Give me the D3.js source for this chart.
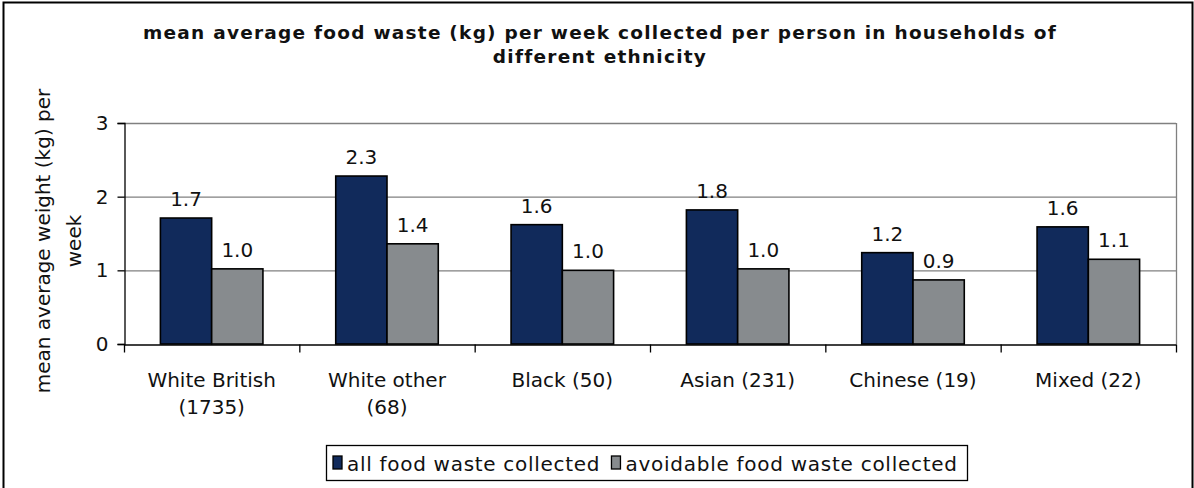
<!DOCTYPE html>
<html>
<head>
<meta charset="utf-8">
<script src="https://cdn.jsdelivr.net/npm/d3@7"></script>
<style>
  html, body { margin: 0; padding: 0; background: #fff; }
  svg { display: block; }
</style>
</head>
<body>
<div id="chart"></div>
<script>
const categories = [
  ['White British', '(1735)'],
  ['White other', '(68)'],
  ['Black (50)'],
  ['Asian (231)'],
  ['Chinese (19)'],
  ['Mixed (22)'],
];
const seriesNames = ['all food waste collected', 'avoidable food waste collected'];
const allWaste = [1.71, 2.28, 1.62, 1.82, 1.24, 1.59];
const avoidableWaste = [1.02, 1.36, 1.00, 1.02, 0.87, 1.15];
const yTicks = [0, 1, 2, 3];
const titleLines = [
  'mean average food waste (kg) per week collected per person in households of',
  'different ethnicity',
];
const yLabelLines = ['mean average weight (kg) per', 'week'];

const W = 1194, H = 488;
const colors = ['#112a5b', '#878b8e'];
const font = 'DejaVu Sans, Verdana, sans-serif';

const svg = d3.select('#chart').append('svg').attr('width', W).attr('height', H);

// outer frame
svg.append('rect').attr('x', 3.5).attr('y', 2.5).attr('width', 1189).attr('height', 500)
  .attr('fill', 'none').attr('stroke', '#000').attr('stroke-width', 2);

const plot = { left: 124, right: 1176, top: 123, bottom: 344 };
const keys = categories.map(c => c.join(' '));

const x = d3.scaleBand().domain(keys).range([plot.left, plot.right]);
const xs = d3.scaleBand().domain(seriesNames).range([0, x.bandwidth()]).paddingOuter(0.71);
const y = d3.scaleLinear().domain([0, 3]).range([plot.bottom, plot.top]);

// gridlines
svg.append('g')
  .selectAll('line').data(yTicks.slice(1)).join('line')
  .attr('x1', plot.left).attr('x2', plot.right)
  .attr('y1', d => y(d) + 0.5).attr('y2', d => y(d) + 0.5)
  .attr('stroke', '#808080').attr('stroke-width', 1.3);
// right border of plot area
svg.append('line').attr('x1', plot.right + 0.5).attr('x2', plot.right + 0.5)
  .attr('y1', plot.top).attr('y2', plot.bottom)
  .attr('stroke', '#808080').attr('stroke-width', 1.3);

// bars
const rows = keys.map((k, i) => ({ key: k, vals: [allWaste[i], avoidableWaste[i]] }));
const groups = svg.append('g').selectAll('g').data(rows).join('g')
  .attr('transform', d => `translate(${x(d.key)},0)`);
groups.selectAll('rect').data(d => d.vals.map((v, j) => ({ v, s: seriesNames[j], j }))).join('rect')
  .attr('x', d => xs(d.s)).attr('width', xs.bandwidth())
  .attr('y', d => y(d.v)).attr('height', d => y(0) - y(d.v))
  .attr('fill', d => colors[d.j]).attr('stroke', '#000').attr('stroke-width', 1.6);
groups.selectAll('text').data(d => d.vals.map((v, j) => ({ v, s: seriesNames[j] }))).join('text')
  .attr('x', d => xs(d.s) + xs.bandwidth() / 2).attr('y', d => y(d.v) - 12)
  .attr('text-anchor', 'middle').attr('font-family', font).attr('font-size', 20).attr('fill', '#111')
  .text(d => d.v.toFixed(1));

// y axis
const yAxis = svg.append('g').attr('transform', `translate(${plot.left + 0.5},0)`)
  .call(d3.axisLeft(y).tickValues(yTicks).tickSize(7).tickPadding(9).tickFormat(d3.format('d')));
yAxis.select('.domain').attr('stroke', '#000').attr('stroke-width', 1.3);
yAxis.selectAll('.tick line').attr('stroke', '#000').attr('stroke-width', 1.3);
yAxis.selectAll('.tick text').attr('font-family', font).attr('font-size', 20).attr('fill', '#111');

// x axis
const xAxis = svg.append('g').attr('transform', `translate(0,${plot.bottom + 0.5})`)
  .call(d3.axisBottom(x).tickSize(0).tickFormat(''));
xAxis.select('.domain').attr('stroke', '#000').attr('stroke-width', 1.3);
xAxis.selectAll('.tick').remove();
const bounds = keys.map(k => x(k)).concat([plot.right]);
xAxis.selectAll('line.cat').data(bounds).join('line').attr('class', 'cat')
  .attr('x1', d => d + 0.5).attr('x2', d => d + 0.5).attr('y1', 0).attr('y2', 8)
  .attr('stroke', '#000').attr('stroke-width', 1.3);
const catLabels = svg.append('g').selectAll('text').data(categories).join('text')
  .attr('x', (d, i) => x(keys[i]) + x.bandwidth() / 2).attr('y', 387)
  .attr('text-anchor', 'middle').attr('font-family', font).attr('font-size', 20).attr('fill', '#111');
catLabels.selectAll('tspan').data(d => d).join('tspan')
  .attr('x', function () { return this.parentNode.getAttribute('x'); })
  .attr('dy', (d, i) => i === 0 ? 0 : 27).text(d => d);

// y label
const yl = svg.append('text').attr('transform', 'translate(50,241) rotate(-90)')
  .attr('text-anchor', 'middle').attr('font-family', font).attr('font-size', 20).attr('fill', '#111');
yl.selectAll('tspan').data(yLabelLines).join('tspan')
  .attr('x', 0).attr('dy', (d, i) => i === 0 ? 0 : 31).text(d => d);

// title, spaced out to the width it has in the original
const tt = svg.append('text').attr('x', 600).attr('y', 39)
  .attr('text-anchor', 'middle').attr('font-family', font).attr('font-size', 18.5)
  .attr('font-weight', 'bold').attr('fill', '#111');
tt.selectAll('tspan').data(titleLines).join('tspan')
  .attr('x', 600).attr('dy', (d, i) => i === 0 ? 0 : 24).text(d => d);
{
  const first = tt.select('tspan').node();
  const len = first.getComputedTextLength();
  const ls = Math.max(0, (914 - len) / titleLines[0].length);
  tt.attr('letter-spacing', ls);
}

// legend
const lg = svg.append('g').attr('transform', 'translate(326,445)');
lg.append('rect').attr('x', 0.5).attr('y', 0.5).attr('width', 641).attr('height', 35)
  .attr('fill', '#fff').attr('stroke', '#000').attr('stroke-width', 1.3);
const sqW = 9, sqGap = 5, entryGap = 12, textEnd = 631;
const items = seriesNames.map((s, i) => {
  const sq = lg.append('rect').attr('y', 11).attr('width', sqW).attr('height', 13)
    .attr('fill', colors[i]).attr('stroke', '#000').attr('stroke-width', 1.3);
  const t = lg.append('text').attr('y', 26)
    .attr('font-family', font).attr('font-size', 20).attr('fill', '#111').text(s);
  return { sq, t, len: t.node().getComputedTextLength() };
});
{
  // stretch the legend text so both entries fill the box like in the original
  const fixed = 7 + 2 * (sqW + sqGap) + entryGap;
  const k = (textEnd - fixed) / d3.sum(items, d => d.len);
  let px = 7;
  items.forEach(({ sq, t, len }) => {
    const L = len * k;
    sq.attr('x', px);
    t.attr('x', px + sqW + sqGap).attr('textLength', L).attr('lengthAdjust', 'spacing');
    px += sqW + sqGap + L + entryGap;
  });
}
</script>
</body>
</html>
